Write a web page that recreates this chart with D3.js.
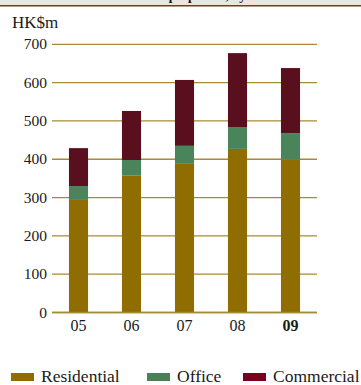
<!DOCTYPE html>
<html>
<head>
<meta charset="utf-8">
<script src="https://cdn.jsdelivr.net/npm/d3@7"></script>
<style>
  html, body { margin: 0; padding: 0; background: #ffffff; }
  svg { display: block; }
</style>
</head>
<body>
<svg id="chart" width="361" height="385"></svg>
<script>
// Rental income by sector, HK$ million
const years = ["05", "06", "07", "08", "09"];
const residential = [296, 357, 388, 427, 399];
const office = [34, 41, 47, 57, 69];
const commercial = [99, 128, 172, 193, 170];
const seriesNames = ["Residential", "Office", "Commercial"];
const yTicks = [0, 100, 200, 300, 400, 500, 600, 700];
const titleText = "Rental income of investment properties, by sector";

const barColors = { Residential: "#8f6d00", Office: "#4a845a", Commercial: "#5a0f1e" };
const legendColors = { Residential: "#8f6d00", Office: "#4a8058", Commercial: "#7a0020" };
const fontFamily = "'Liberation Serif', 'DejaVu Serif', serif";

const svg = d3.select("#chart");

// header strip: title sits above the top edge, only its descenders reach the strip
svg.append("rect").attr("x", 0).attr("y", 0).attr("width", 361).attr("height", 5.5).attr("fill", "#ebe6df");
svg.append("clipPath").attr("id", "headClip")
  .append("rect").attr("x", 0).attr("y", 0).attr("width", 361).attr("height", 5);
svg.append("text")
  .attr("clip-path", "url(#headClip)")
  .attr("x", 145).attr("y", 0)
  .attr("text-anchor", "middle")
  .attr("font-family", fontFamily)
  .attr("font-weight", "bold")
  .attr("font-size", 13)
  .attr("fill", "#111")
  .text(titleText);
svg.append("line").attr("x1", 0).attr("x2", 361).attr("y1", 5.75).attr("y2", 5.75)
  .attr("stroke", "#6e3d1e").attr("stroke-width", 1.5);

const plotLeft = 52, plotRight = 317, plotTop = 44.3, plotBottom = 312.5;

const x = d3.scaleBand().domain(years).range([plotLeft, plotRight])
  .paddingInner(0.64).paddingOuter(0.32);
const y = d3.scaleLinear().domain([0, 700]).range([plotBottom, plotTop]);

// gridlines
svg.append("g").selectAll("line").data(yTicks).join("line")
  .attr("x1", plotLeft).attr("x2", plotRight)
  .attr("y1", d => y(d)).attr("y2", d => y(d))
  .attr("stroke", "#a98a34").attr("stroke-width", 1.3);

// y tick labels
svg.append("g").selectAll("text").data(yTicks).join("text")
  .attr("x", 47).attr("y", d => y(d))
  .attr("dy", "0.33em")
  .attr("text-anchor", "end")
  .attr("font-family", fontFamily)
  .attr("font-size", 15.5)
  .attr("fill", "#1a1a1a")
  .text(d => d);

// unit label
svg.append("text")
  .attr("x", 12).attr("y", 27.5)
  .attr("font-family", fontFamily)
  .attr("font-size", 17)
  .attr("fill", "#1a1a1a")
  .text("HK$m");

// stacked bars
const rows = years.map((yr, i) => ({
  year: yr,
  Residential: residential[i],
  Office: office[i],
  Commercial: commercial[i]
}));
const stacked = d3.stack().keys(seriesNames)(rows);

svg.append("g").selectAll("g").data(stacked).join("g")
  .attr("fill", d => barColors[d.key])
  .selectAll("rect").data(d => d).join("rect")
  .attr("x", d => x(d.data.year))
  .attr("width", x.bandwidth())
  .attr("y", d => y(d[1]))
  .attr("height", d => y(d[0]) - y(d[1]));

// baseline redrawn over bars
svg.append("line")
  .attr("x1", plotLeft).attr("x2", plotRight)
  .attr("y1", y(0)).attr("y2", y(0))
  .attr("stroke", "#a98a34").attr("stroke-width", 1.5);

// x labels
svg.append("g").selectAll("text").data(years).join("text")
  .attr("x", d => x(d) + x.bandwidth() / 2)
  .attr("y", 330.5)
  .attr("text-anchor", "middle")
  .attr("font-family", fontFamily)
  .attr("font-size", 16)
  .attr("font-weight", (d, i) => i === years.length - 1 ? "bold" : "normal")
  .attr("fill", "#1a1a1a")
  .text(d => d);

// legend
const legendX = [11, 147, 243];
const legend = svg.append("g").selectAll("g").data(seriesNames).join("g")
  .attr("transform", (d, i) => `translate(${legendX[i]},373)`);
legend.append("rect")
  .attr("width", 23).attr("height", 8)
  .attr("fill", d => legendColors[d]);
legend.append("text")
  .attr("x", 30).attr("y", 8.7)
  .attr("font-family", fontFamily)
  .attr("font-size", 17.5)
  .attr("fill", "#1a1a1a")
  .text(d => d);
</script>
</body>
</html>
